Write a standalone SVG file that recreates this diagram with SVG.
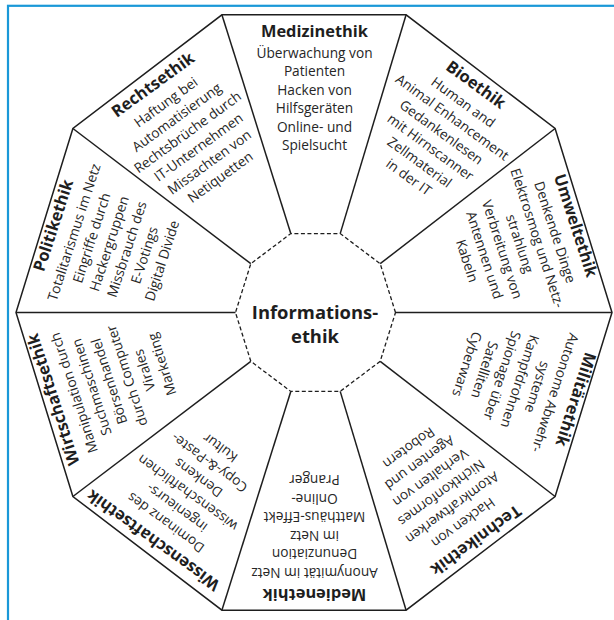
<svg xmlns="http://www.w3.org/2000/svg" width="614" height="620" viewBox="0 0 614 620">
<style>
.t{font-family:"Open Sans","Noto Sans",sans-serif;font-weight:700;font-size:16.4px;fill:#1e1e1e;text-anchor:middle}
.l{font-family:"Open Sans","Noto Sans",sans-serif;font-size:13.7px;fill:#262626;text-anchor:middle}
.c{font-family:"Open Sans","Noto Sans",sans-serif;font-weight:700;font-size:18.4px;fill:#1e1e1e;text-anchor:middle}
.edge{fill:none;stroke:#1e1e1e;stroke-width:1.5;stroke-linejoin:miter}
.inner{fill:none;stroke:#1e1e1e;stroke-width:1.3;stroke-dasharray:4 2.5}
</style>
<rect width="614" height="620" fill="#ffffff"/>
<rect x="8" y="5.8" width="640" height="640" fill="none" stroke="#1a98d8" stroke-width="2.2"/>
<polygon class="edge" points="612,312.5 555.1,128.5 406.1,14.8 221.9,14.8 72.9,128.5 16,312.5 72.9,496.5 221.9,610.2 406.1,610.2 555.1,496.5"/>
<g id="connectors" class="edge">
<line x1="395.5" y1="312.5" x2="612" y2="312.5"/>
<line x1="380.2" y1="263.7" x2="555.1" y2="128.5"/>
<line x1="340.2" y1="233.6" x2="406.1" y2="14.8"/>
<line x1="290.8" y1="233.6" x2="221.9" y2="14.8"/>
<line x1="250.8" y1="263.7" x2="72.9" y2="128.5"/>
<line x1="235.5" y1="312.5" x2="16" y2="312.5"/>
<line x1="250.8" y1="361.3" x2="72.9" y2="496.5"/>
<line x1="290.8" y1="391.4" x2="221.9" y2="610.2"/>
<line x1="340.2" y1="391.4" x2="406.1" y2="610.2"/>
<line x1="380.2" y1="361.3" x2="555.1" y2="496.5"/>
</g>
<g id="informationsethik">
<polygon class="inner" points="395.5,312.5 380.2,263.7 340.2,233.6 290.8,233.6 250.8,263.7 235.5,312.5 250.8,361.3 290.8,391.4 340.2,391.4 380.2,361.3"/>
<text class="c" x="315" y="319">Informations-</text>
<text class="c" x="315" y="343">ethik</text>
</g>
<g id="medizinethik" transform="translate(314.5,36.5)">
<text class="t" y="0">Medizinethik</text>
<text class="l" y="21">Überwachung von</text>
<text class="l" y="39.5">Patienten</text>
<text class="l" y="58">Hacken von</text>
<text class="l" y="76.5">Hilfsgeräten</text>
<text class="l" y="95">Online- und</text>
<text class="l" y="113.5">Spielsucht</text>
</g>
<g id="bioethik" transform="translate(472.7,89.2) rotate(36)">
<text class="t" y="0">Bioethik</text>
<text class="l" y="21">Human and</text>
<text class="l" y="39.5">Animal Enhancement</text>
<text class="l" y="58">Gedankenlesen</text>
<text class="l" y="76.5">mit Hirnscanner</text>
<text class="l" y="95">Zellmaterial</text>
<text class="l" y="113.5">in der IT</text>
</g>
<g id="umweltethik" transform="translate(570.4,227.2) rotate(72)">
<text class="t" y="0">Umweltethik</text>
<text class="l" y="21">Denkende Dinge</text>
<text class="l" y="39.5">Elektrosmog und Netz-</text>
<text class="l" y="58">strahlung</text>
<text class="l" y="76.5">Verbreitung von</text>
<text class="l" y="95">Antennen und</text>
<text class="l" y="113.5">Kabeln</text>
</g>
<g id="militaerethik" transform="translate(570.4,397.8) rotate(108)">
<text class="t" y="0">Militärethik</text>
<text class="l" y="21">Autonome Abwehr-</text>
<text class="l" y="39.5">systeme</text>
<text class="l" y="58">Kampfdrohnen</text>
<text class="l" y="76.5">Spionage über</text>
<text class="l" y="95">Satelliten</text>
<text class="l" y="113.5">Cyberwars</text>
</g>
<g id="technikethik" transform="translate(472.7,535.8) rotate(144)">
<text class="t" y="0">Technikethik</text>
<text class="l" y="21">Hacken von</text>
<text class="l" y="39.5">Atomkraftwerken</text>
<text class="l" y="58">Nichtkonformes</text>
<text class="l" y="76.5">Verhalten von</text>
<text class="l" y="95">Agenten und</text>
<text class="l" y="113.5">Robotern</text>
</g>
<g id="medienethik" transform="translate(314.5,588.5) rotate(180)">
<text class="t" y="0">Medienethik</text>
<text class="l" y="21">Anonymität im Netz</text>
<text class="l" y="39.5">Denunziation</text>
<text class="l" y="58">im Netz</text>
<text class="l" y="76.5">Matthäus-Effekt</text>
<text class="l" y="95">Online-</text>
<text class="l" y="113.5">Pranger</text>
</g>
<g id="wissenschaftsethik" transform="translate(156.3,535.8) rotate(216)">
<text class="t" y="0">Wissenschaftsethik</text>
<text class="l" y="21">Dominanz des</text>
<text class="l" y="39.5">ingenieurs-</text>
<text class="l" y="58">wissenschaftlichen</text>
<text class="l" y="76.5">Denkens</text>
<text class="l" y="95">Copy-&amp;-Paste-</text>
<text class="l" y="113.5">Kultur</text>
</g>
<g id="wirtschaftsethik" transform="translate(58.6,397.8) rotate(252)">
<text class="t" y="0">Wirtschaftsethik</text>
<text class="l" y="21">Manipulation durch</text>
<text class="l" y="39.5">Suchmaschinen</text>
<text class="l" y="58">Börsenhandel</text>
<text class="l" y="76.5">durch Computer</text>
<text class="l" y="95">Virales</text>
<text class="l" y="113.5">Marketing</text>
</g>
<g id="politikethik" transform="translate(58.6,227.2) rotate(288)">
<text class="t" y="0">Politikethik</text>
<text class="l" y="21">Totalitarismus im Netz</text>
<text class="l" y="39.5">Eingriffe durch</text>
<text class="l" y="58">Hackergruppen</text>
<text class="l" y="76.5">Missbrauch des</text>
<text class="l" y="95">E-Votings</text>
<text class="l" y="113.5">Digital Divide</text>
</g>
<g id="rechtsethik" transform="translate(156.3,89.2) rotate(324)">
<text class="t" y="0">Rechtsethik</text>
<text class="l" y="21">Haftung bei</text>
<text class="l" y="39.5">Automatisierung</text>
<text class="l" y="58">Rechtsbrüche durch</text>
<text class="l" y="76.5">IT-Unternehmen</text>
<text class="l" y="95">Missachten von</text>
<text class="l" y="113.5">Netiquetten</text>
</g>
</svg>
